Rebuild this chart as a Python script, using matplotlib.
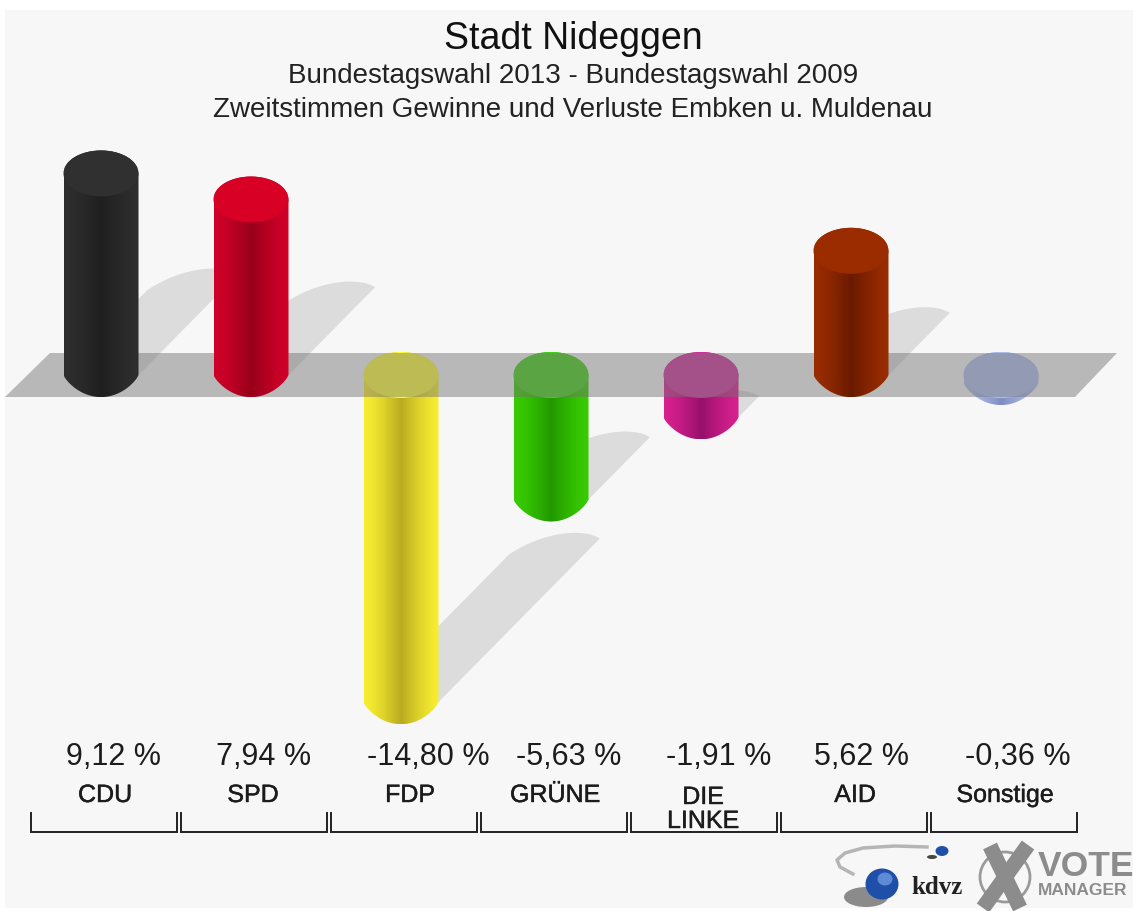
import numpy as np
import matplotlib
matplotlib.use('Agg')
import matplotlib.pyplot as plt
from matplotlib.colors import to_rgb
from matplotlib.patches import Ellipse, Polygon, Rectangle
import matplotlib.patheffects as pe

parties = ['CDU', 'SPD', 'FDP', 'GRÜNE', 'DIE\nLINKE', 'AID', 'Sonstige']
values = [9.12, 7.94, -14.80, -5.63, -1.91, 5.62, -0.36]
value_labels = ['9,12 %', '7,94 %', '-14,80 %', '-5,63 %', '-1,91 %', '5,62 %', '-0,36 %']

edge_cols = ['#2e2e2e', '#d00028', '#f8ee30', '#38cc00', '#d8208f', '#9a2c00', '#b0c0ee']
mid_cols = ['#1f1f1f', '#96001a', '#b8aa20', '#229800', '#96106a', '#681a00', '#7f8cc0']
top_cols = ['#303030', '#d80024', '#fffb3a', '#44d11c', '#d1319e', '#9a2c00', '#b0c0ee']

W, H = 1133, 911
PX_X = 150.0   # pixels per party
PX_Y = 22.1    # pixels per percent
X0, Y0 = 101, 375
BAR_W = 0.5
CAP = 1.04     # half height of the top ellipse, in percent
TIP = 1.0      # depth of the lower end
TXT = '#1c1c1c'

plt.rcParams['font.family'] = ['Liberation Sans', 'DejaVu Sans']

fig = plt.figure(figsize=(W / 100, H / 100), dpi=100, facecolor='white')
ax = fig.add_axes([0, 0, 1, 1])


def px(x, y):
    # reference pixel -> data coordinates
    return (x - X0) / PX_X, (Y0 - y) / PX_Y


xmin, ymax = px(0, 0)
xmax, ymin = px(W, H)
ax.axis('off')

ax.add_patch(Rectangle(px(5, 908), 1128 / PX_X, 898 / PX_Y, fc='#f7f7f7', ec='none', zorder=0))


def bar_outline(i, v):
    top = max(v, 0)
    bot = min(v, 0)
    u = np.linspace(-1, 1, 60)
    low = np.column_stack([i + u * BAR_W / 2, bot - TIP * (1 - u ** 2) ** 0.8])
    upp = np.column_stack([i - u * BAR_W / 2, top + CAP * np.sqrt(1 - u ** 2)])
    return np.vstack([low, upp]), top, bot


def shadow(i, v):
    # slanted shadow, starts at the foot of the bar, length follows the value
    base = min(v, 0)
    dx = abs(v) * 10.9 / PX_X
    dy = abs(v) * 0.5
    p0 = np.array([i + dx + BAR_W / 2, base + dy])
    e = np.array([i + dx - BAR_W / 2, base + dy])
    back = min(16 / PX_Y / dy, 0.6)
    p3 = e - back * np.array([dx, dy])
    p1 = p0 + [-15 / PX_X, 10 / PX_Y]
    p2 = p0 + [-55 / PX_X, 8 / PX_Y]
    t = np.linspace(0, 1, 40)[:, None]
    cap = (1 - t) ** 3 * p0 + 3 * (1 - t) ** 2 * t * p1 + 3 * (1 - t) * t ** 2 * p2 + t ** 3 * p3
    pts = np.vstack([[i + BAR_W / 2, base], cap, [i - BAR_W / 2, base]])
    ax.add_patch(Polygon(pts, closed=True, fc='#dcdcdc', ec='none', zorder=1))


def bar(i, v, edge, mid, top_col, z):
    pts, top, bot = bar_outline(i, v)
    clip = Polygon(pts, closed=True, transform=ax.transData, fc='none', ec='none')
    ax.add_patch(clip)
    u = np.linspace(-1, 1, 151)
    m = ((1 - np.abs(u)) ** 1.4)[:, None]
    rgb = (1 - m) * np.array(to_rgb(edge)) + m * np.array(to_rgb(mid))
    im = ax.imshow(rgb[None, :, :], extent=[i - BAR_W / 2, i + BAR_W / 2, bot - TIP, top + CAP],
                   aspect='auto', interpolation='bilinear', zorder=z)
    im.set_clip_path(clip)
    ax.add_patch(Ellipse((i, top), BAR_W, 2 * CAP, fc=top_col, ec='none', zorder=z + 0.1))


for i, v in enumerate(values):
    if abs(v) > 1:
        shadow(i, v)

for i, v in enumerate(values):
    bar(i, v, edge_cols[i], mid_cols[i], top_cols[i], 4 if v > 0 else 2)

# grey floor, lies over the bars that go down
floor = [px(5, 397), px(50, 353), px(1117, 353), px(1075, 397)]
ax.add_patch(Polygon(floor, closed=True, fc='#737373', ec='none', alpha=0.47, zorder=3))

# title
tx = 573
ax.text(*px(tx, 39), 'Stadt Nideggen', fontsize=27, color='#111111', ha='center', va='center')
ax.text(*px(tx, 76), 'Bundestagswahl 2013 - Bundestagswahl 2009', fontsize=20, color='#222222', ha='center', va='center')
ax.text(*px(tx, 110), 'Zweitstimmen Gewinne und Verluste Embken u. Muldenau', fontsize=20, color='#222222', ha='center', va='center')

# values, party names, brackets
val_off = [12, 13, 27, 18, 18, 11, 17]
name_off = [4, 2, 9, 4, 2, 4, 4]
for i in range(len(parties)):
    cx = X0 + i * PX_X
    ax.text(*px(cx + val_off[i], 757), value_labels[i], fontsize=22, color=TXT, ha='center', va='center')
    name = parties[i]
    ax.text(*px(cx + name_off[i], 795 if '\n' not in name else 809), name, fontsize=18, color=TXT,
            ha='center', va='center', linespacing=1.0,
            path_effects=[pe.withStroke(linewidth=0.3, foreground=TXT)])
    bx = [cx - 70, cx - 70, cx + 76, cx + 76]
    by = [813, 832, 832, 813]
    xy = np.array([px(a, b) for a, b in zip(bx, by)])
    ax.plot(xy[:, 0], xy[:, 1], color='#222222', lw=1.4, solid_joinstyle='miter', zorder=5)

# logos
sw = np.array([px(a, b) for a, b in [(927, 847), (895, 846), (863, 848), (845, 853), (837, 860), (840, 867), (853, 874)]])
ax.plot(sw[:, 0], sw[:, 1], color='#b5b5b5', lw=2.5, zorder=5)
ax.add_patch(Ellipse(px(866, 897), 44 / PX_X, 20 / PX_Y, fc='#333333', ec='none', alpha=0.55, zorder=5))
ax.add_patch(Ellipse(px(882, 884), 33 / PX_X, 31 / PX_Y, fc='#1f4fa8', ec='none', zorder=6))
ax.add_patch(Ellipse(px(885, 879), 15 / PX_X, 13 / PX_Y, fc='#5f8ad6', ec='none', zorder=6))
ax.add_patch(Ellipse(px(932, 857), 10 / PX_X, 4 / PX_Y, fc='#444444', ec='none', zorder=5))
ax.add_patch(Ellipse(px(942, 851), 13 / PX_X, 10 / PX_Y, fc='#1f4fa8', ec='none', zorder=6))
ax.text(*px(937, 887), 'kdvz', fontsize=18, family=['Liberation Serif'], weight='bold', color='#222222',
        ha='center', va='center', zorder=6)
for a, b, c, d in [(990, 846, 1020, 908), (1028, 845, 983, 908)]:
    xy = np.array([px(a, b), px(c, d)])
    ax.plot(xy[:, 0], xy[:, 1], color='#8c8c8c', lw=11, solid_capstyle='butt', zorder=6)
ax.add_patch(Ellipse(px(1005, 877), 50 / PX_X, 50 / PX_Y, fc='none', ec='#9a9a9a', lw=2, zorder=5))
ax.text(*px(1038, 866), 'VOTE', fontsize=25.5, weight='bold', color='#8c8c8c', ha='left', va='center', zorder=6)
ax.text(*px(1038, 891), 'MANAGER', fontsize=12.5, weight='bold', color='#8c8c8c', ha='left', va='center', zorder=6)

ax.set_xlim(xmin, xmax)
ax.set_ylim(ymin, ymax)

plt.savefig('out.png', dpi=100, facecolor=fig.get_facecolor())
